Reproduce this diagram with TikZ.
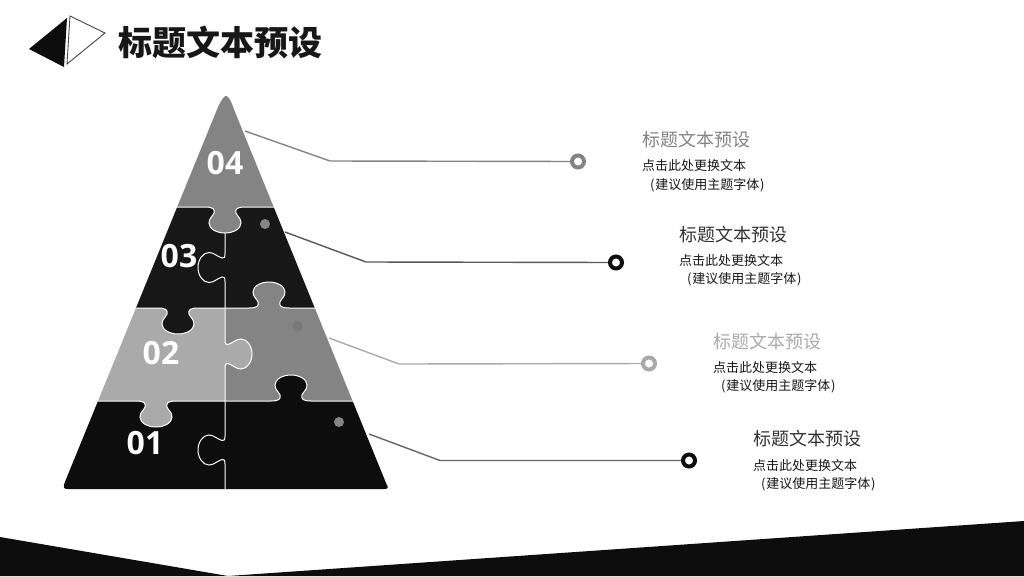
\documentclass[tikz,border=0pt]{standalone}
\usepackage{fontspec}
\setmainfont{Noto Sans CJK SC}
\newfontfamily\numfont{Open Sans}
\definecolor{ink}{HTML}{0D0D0D}
\definecolor{dark}{HTML}{171717}
\definecolor{midg}{HTML}{848484}
\definecolor{lightg}{HTML}{AAAAAA}
\newcommand{\fsz}[1]{\fontsize{#1}{#1}\selectfont}
\newcommand{\paren}{(\kern0.8pt 建议使用主题字体\kern0.8pt)}
% horizontal tab fragment: centre x, edge y, sign
\newcommand{\tabH}[3]{-- ({#1-20},#2) .. controls ({#1-12},#2) and ({#1-10},{#2+2*#3}) .. ({#1-11},{#2+6*#3})
 .. controls ({#1-12},{#2+9*#3}) and ({#1-16},{#2+11*#3}) .. ({#1-16},{#2+16*#3})
 .. controls ({#1-16},{#2+22*#3}) and ({#1-8},{#2+26*#3}) .. (#1,{#2+26*#3})
 .. controls ({#1+8},{#2+26*#3}) and ({#1+16},{#2+22*#3}) .. ({#1+16},{#2+16*#3})
 .. controls ({#1+16},{#2+11*#3}) and ({#1+12},{#2+9*#3}) .. ({#1+11},{#2+6*#3})
 .. controls ({#1+10},{#2+2*#3}) and ({#1+12},#2) .. ({#1+20},#2)}
% vertical tab fragment: centre y, edge x, sign
\newcommand{\tabV}[3]{-- (#2,{#1-14}) .. controls (#2,{#1-10}) and ({#2+1*#3},{#1-9}) .. ({#2+3*#3},{#1-9.5})
 .. controls ({#2+8*#3},{#1-11}) and ({#2+11*#3},{#1-15}) .. ({#2+16*#3},{#1-15})
 .. controls ({#2+22*#3},{#1-15}) and ({#2+27*#3},{#1-8}) .. ({#2+27*#3},#1)
 .. controls ({#2+27*#3},{#1+8}) and ({#2+22*#3},{#1+15}) .. ({#2+16*#3},{#1+15})
 .. controls ({#2+11*#3},{#1+15}) and ({#2+8*#3},{#1+11}) .. ({#2+3*#3},{#1+9.5})
 .. controls ({#2+1*#3},{#1+9}) and (#2,{#1+10}) .. (#2,{#1+14})}
\tikzset{
  x=1pt,y=-1pt,
  seam/.style={draw=white,line width=1pt},
  lead/.style={line width=1.4pt},
  ring/.style={circle,draw=#1,fill=white,line width=4pt,minimum size=12pt,inner sep=0pt},
  headtext/.style={anchor=west,inner sep=0pt,font=\fsz{18}},
  bodytext/.style={anchor=west,inner sep=0pt,font=\fsz{13},text=dark},
  numtext/.style={text=white,inner sep=0pt,font=\numfont\bfseries\fsz{32}},
  dot/.style={circle,fill=#1,minimum size=10pt,inner sep=0pt},
}
\begin{document}
\begin{tikzpicture}
\useasboundingbox (0,0) rectangle (1024,576);
\fill[white] (0,0) rectangle (1024,576);
% bottom band
\fill[ink] (0,537) -- (228,576) -- (1024,521) -- (1024,576) -- (0,576) -- cycle;
% header icon
\fill[ink] (29,49) -- (67,18) -- (64,67) -- cycle;
\draw[fill=white,draw=dark!80,line width=0.9pt,line join=miter] (70,16) -- (105,33) -- (67,64) -- cycle;
\node[anchor=west,inner sep=0pt,text=dark,font=\bfseries\fsz{34}] (title) at (118,42) {标题文本预设};
% pyramid
\begin{scope}
\clip (216.8,110) .. controls (221,100) and (224,96) .. (226,96) .. controls (228,96) and (231,100) .. (234.2,110)
  -- (386,483) .. controls (389,488) and (388,489) .. (384,489) -- (68,489)
  .. controls (64,489) and (63,488) .. (64.5,483) -- cycle;
\fill[midg] (50,90) rectangle (400,207);
\fill[dark] (50,207) rectangle (400,308);
\fill[lightg] (50,308) rectangle (225,401);
\fill[midg] (225,308) rectangle (400,401);
\fill[ink] (50,401) rectangle (400,495);
\fill[midg] (205,207) \tabH{225}{207}{1} -- cycle;
\fill[dark] (158,308) \tabH{178}{308}{1} -- cycle;
\fill[midg] (249,308) \tabH{269}{308}{-1} -- cycle;
\fill[lightg] (136,401) \tabH{156}{401}{1} -- cycle;
\fill[ink] (271,401) \tabH{291}{401}{-1} -- cycle;
\fill[lightg] (225,340) \tabV{354}{225}{1} -- cycle;
\draw[seam] (100,207) \tabH{225}{207}{1} -- (400,207);
\draw[seam] (100,308) \tabH{178}{308}{1} \tabH{269}{308}{-1} -- (400,308);
\draw[seam] (60,401) \tabH{156}{401}{1} \tabH{291}{401}{-1} -- (400,401);
\draw[seam] (225,233) \tabV{267.5}{225}{-1} \tabV{354}{225}{1} \tabV{450}{225}{-1} -- (225,495);
\end{scope}
\node[dot=midg] (d3) at (265,224) {};
\node[dot=midg!92!black] (d2) at (297.5,326) {};
\node[dot=midg] (d1) at (339,422) {};
\node[numtext] (n4) at (225,163.5) {04};
\node[numtext] (n3) at (179,256) {03};
\node[numtext] (n2) at (161,353.5) {02};
\node[numtext] (n1) at (145,443.5) {01};
% connectors
\coordinate (s4) at (245,131); \coordinate (b4) at (330,161);
\coordinate (s3) at (285,232); \coordinate (b3) at (366,262);
\coordinate (s2) at (329,338); \coordinate (b2) at (399,364);
\coordinate (s1) at (369,434); \coordinate (b1) at (440,460.5);
\node[ring=midg] (r4) at (578,161.5) {};
\node[ring=ink] (r3) at (616,262.5) {};
\node[ring=lightg] (r2) at (649,363.5) {};
\node[ring=ink] (r1) at (689,460.5) {};
\draw[lead,draw=midg] (s4) -- (b4) -- (r4);
\draw[lead,draw=black!65] (s3) -- (b3) -- (r3);
\draw[lead,draw=lightg] (s2) -- (b2) -- (r2);
\draw[lead,draw=black!60] (s1) -- (b1) -- (r1);
% labels
\node[headtext,text=midg] (h4) at (642,140) {标题文本预设};
\node[bodytext] (p4a) at (642,166) {点击此处更换文本};
\node[bodytext] (p4b) at (650,185) {\paren};
\node[headtext,text=black!80] (h3) at (679,234.5) {标题文本预设};
\node[bodytext] (p3a) at (679,261) {点击此处更换文本};
\node[bodytext] (p3b) at (687,279.5) {\paren};
\node[headtext,text=lightg] (h2) at (713,341.5) {标题文本预设};
\node[bodytext] (p2a) at (713,368) {点击此处更换文本};
\node[bodytext] (p2b) at (721,386.5) {\paren};
\node[headtext,text=black!80] (h1) at (753,438.5) {标题文本预设};
\node[bodytext] (p1a) at (753,466) {点击此处更换文本};
\node[bodytext] (p1b) at (761,484.5) {\paren};
\end{tikzpicture}
\end{document}
